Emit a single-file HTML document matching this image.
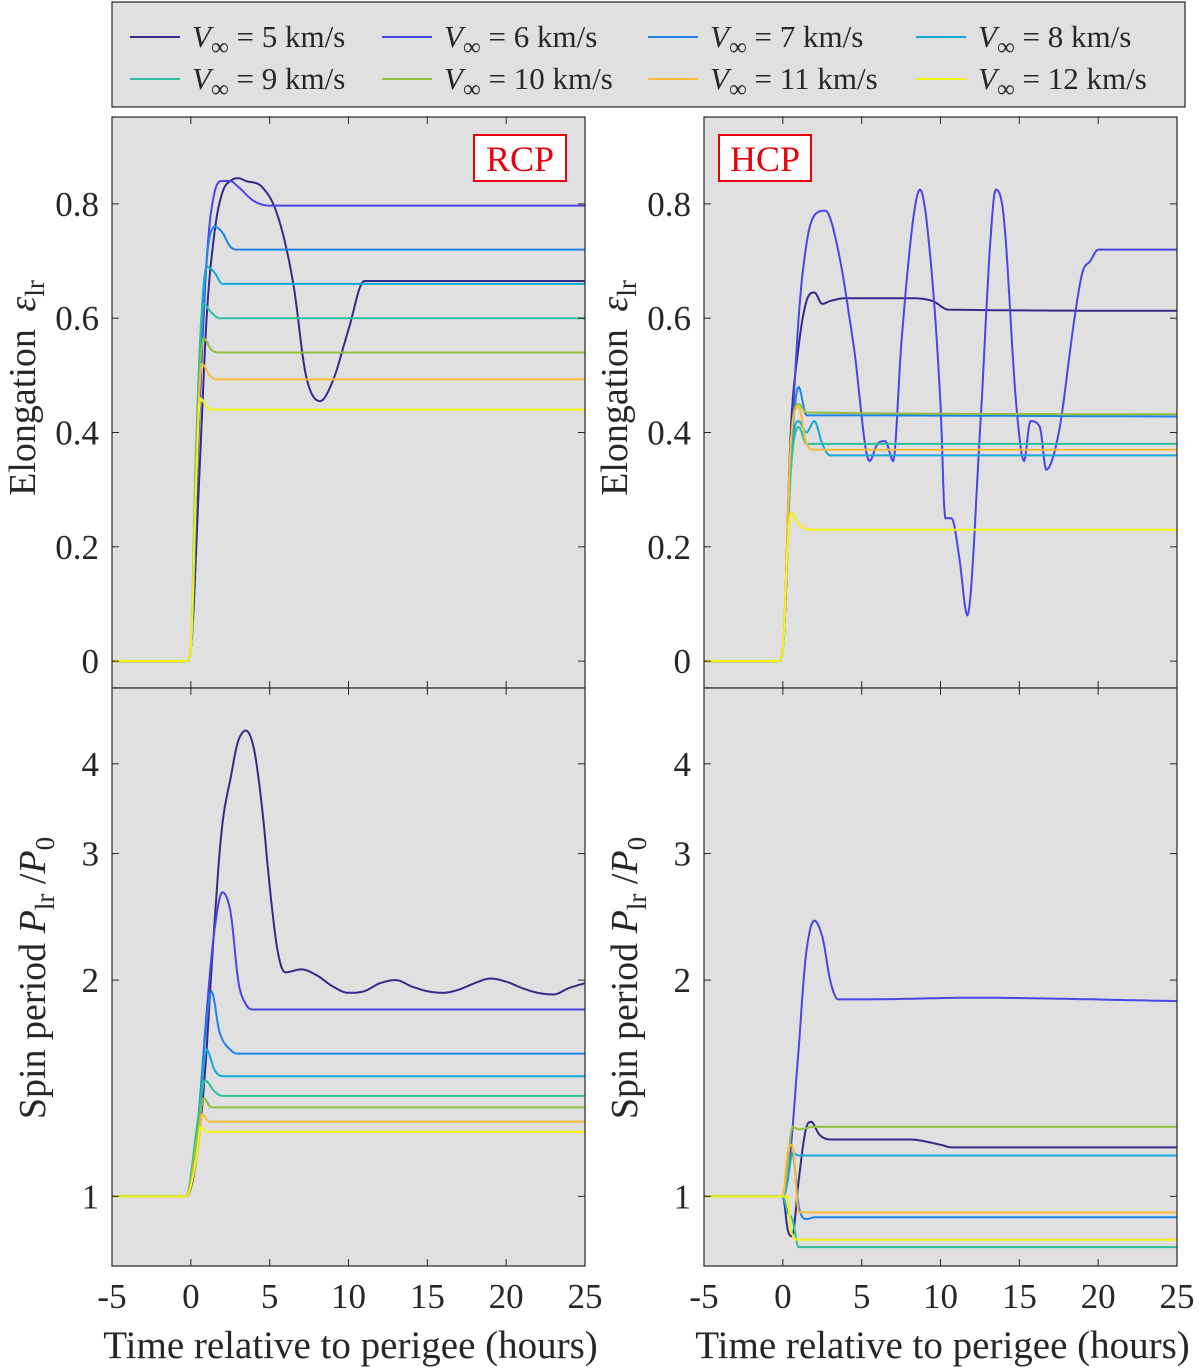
<!DOCTYPE html>
<html><head><meta charset="utf-8">
<style>
html,body{margin:0;padding:0;background:#fff;}
svg{display:block;font-family:"Liberation Serif",serif;}
</style></head>
<body>
<svg id="fig" width="1200" height="1372" viewBox="0 0 1200 1372" xmlns="http://www.w3.org/2000/svg">
<g id="legend"></g>
<g id="panels"></g>
</svg>
<script>
const speeds = [5,6,7,8,9,10,11,12];
const colors = ["#352a87","#4a45e6","#1f82e8","#13a8d8","#2ebf9a","#8fbf3c","#fbb93a","#f5f50a"];

// RCP elongation [t, value]
const rcpElongT = [
 [-5,-0.3,0,0.5,1,1.5,2,2.5,3,3.5,4.5,5.5,6.5,7.3,8.2,9,10,11,25],
 [-5,-0.3,0,0.5,1,1.5,2,2.5,3,4,5,25],
 [-5,-0.3,0,0.5,1,1.5,2,2.5,3,25],
 [-5,-0.3,0,0.5,1,1.5,2,25],
 [-5,-0.3,0,0.3,0.8,1.3,1.8,25],
 [-5,-0.3,0,0.3,0.8,1.3,1.8,25],
 [-5,-0.3,0,0.3,0.7,1.2,1.6,25],
 [-5,-0.3,0,0.3,0.6,1,1.5,25]];
const rcpElongV = [
 [0,0,0.02,0.3,0.6,0.75,0.82,0.84,0.845,0.84,0.83,0.78,0.66,0.5,0.455,0.49,0.58,0.665,0.665],
 [0,0,0.02,0.4,0.7,0.82,0.84,0.84,0.83,0.805,0.797,0.797],
 [0,0,0.02,0.45,0.7,0.76,0.75,0.725,0.72,0.72],
 [0,0,0.02,0.5,0.69,0.68,0.66,0.66],
 [0,0,0.02,0.35,0.625,0.61,0.6,0.6],
 [0,0,0.02,0.33,0.565,0.545,0.54,0.54],
 [0,0,0.02,0.3,0.52,0.5,0.493,0.493],
 [0,0,0.02,0.28,0.46,0.445,0.44,0.44]];

// HCP elongation
const hcpElongT = [
 [-5,-0.3,0,0.5,1,1.5,2,2.5,3,4,8,9.5,10.5,25],
 [-5,-0.3,0,0.5,1,1.5,2,2.7,3.5,4.5,5.5,6,6.5,7,7.5,8.3,8.7,9.2,10,10.3,10.7,11.2,11.7,12.5,13.2,13.5,14,14.8,15.3,15.7,16.3,16.7,17.5,18.5,19,19.5,20,21,25],
 [-5,-0.3,0,0.5,1,1.5,2,25],
 [-5,-0.3,0,0.5,1,1.5,2,2.5,3,25],
 [-5,-0.3,0,0.5,1,1.5,25],
 [-5,-0.3,0,0.5,1,1.5,25],
 [-5,-0.3,0,0.5,1,1.5,2,25],
 [-5,-0.3,0,0.3,0.5,1,1.8,25]];
const hcpElongV = [
 [0,0,0.02,0.4,0.55,0.63,0.645,0.625,0.63,0.635,0.635,0.63,0.615,0.613],
 [0,0,0.02,0.35,0.6,0.73,0.78,0.788,0.72,0.55,0.35,0.38,0.385,0.35,0.55,0.78,0.825,0.75,0.45,0.25,0.25,0.18,0.08,0.4,0.75,0.825,0.78,0.45,0.35,0.42,0.41,0.335,0.4,0.6,0.68,0.7,0.72,0.72,0.72],
 [0,0,0.02,0.35,0.48,0.43,0.43,0.428],
 [0,0,0.02,0.35,0.42,0.4,0.42,0.38,0.36,0.36],
 [0,0,0.02,0.33,0.41,0.38,0.38],
 [0,0,0.02,0.38,0.45,0.435,0.432],
 [0,0,0.02,0.38,0.445,0.38,0.37,0.37],
 [0,0,0.02,0.2,0.26,0.24,0.23,0.23]];

// RCP spin period
const rcpSpinT = [
 [-5,-0.3,0.5,1,1.5,2,2.5,3,3.5,4,4.5,5,5.5,6,7,8,9,10,11,12,13,14,15,16,17,18,19,20,21,22,23,24,25],
 [-5,-0.3,0.5,1,1.5,2,2.5,3,3.5,4,25],
 [-5,-0.3,0.5,1,1.3,1.8,2.5,3,25],
 [-5,-0.3,0.5,1,1.5,2,25],
 [-5,-0.3,0.5,0.9,1.5,2,25],
 [-5,-0.3,0.5,0.8,1.3,2,25],
 [-5,-0.3,0.5,0.7,1.2,2,25],
 [-5,-0.3,0.4,0.6,1,25]];
const rcpSpinV = [
 [1,1,1.2,1.6,2.4,3.3,3.8,4.3,4.45,4.2,3.5,2.7,2.2,2.05,2.07,2.03,1.96,1.92,1.93,1.98,2.0,1.96,1.93,1.92,1.94,1.98,2.01,1.99,1.95,1.92,1.91,1.95,1.98],
 [1,1,1.3,1.8,2.35,2.65,2.5,2.0,1.85,1.82,1.82],
 [1,1,1.3,1.75,1.93,1.7,1.6,1.58,1.58],
 [1,1,1.3,1.6,1.5,1.47,1.47],
 [1,1,1.3,1.45,1.4,1.38,1.38],
 [1,1,1.25,1.37,1.33,1.33,1.33],
 [1,1,1.2,1.3,1.27,1.27,1.27],
 [1,1,1.15,1.25,1.23,1.23]];

// HCP spin period
const hcpSpinT = [
 [-5,0,0.3,0.6,1,1.5,1.8,2.3,3,8,10,10.7,25],
 [-5,0,0.4,1,1.5,2,2.5,3,3.5,5,12,25],
 [-5,0,0.3,0.6,1,1.5,2,25],
 [-5,0,0.3,0.6,1,2,25],
 [-5,0,0.3,0.6,1,1.5,25],
 [-5,0,0.3,0.6,1,2,25],
 [-5,0,0.3,0.6,1,25],
 [-5,0,0.3,0.5,1,25]];
const hcpSpinV = [
 [1,1,0.9,0.88,1.05,1.25,1.27,1.22,1.2,1.2,1.18,1.17,1.17],
 [1,1,1.1,1.6,2.2,2.42,2.3,2.0,1.88,1.88,1.89,1.87],
 [1,1,1.05,1.15,0.97,0.93,0.935,0.935],
 [1,1,1.05,1.15,1.14,1.14,1.14],
 [1,1,0.95,0.93,0.85,0.85,0.85],
 [1,1,1.1,1.25,1.24,1.25,1.25],
 [1,1,1.15,1.18,0.95,0.95],
 [1,1,1.0,0.9,0.87,0.87]];

const xTicks = [-5,0,5,10,15,20,25];
const elongTicks = [0,0.2,0.4,0.6,0.8];
const spinTicks = [1,2,3,4];

const NS = "http://www.w3.org/2000/svg";
const svg = document.getElementById('fig');
const panelsG = document.getElementById('panels');
function mk(tag, attrs, parent){ const e=document.createElementNS(NS,tag); for(const k in attrs) e.setAttribute(k,attrs[k]); parent.appendChild(e); return e; }

// monotone cubic interpolation sampling
function smooth(xs, ys){
  const n=xs.length, m=new Array(n), d=[];
  for(let i=0;i<n-1;i++) d.push((ys[i+1]-ys[i])/(xs[i+1]-xs[i]));
  m[0]=d[0]; m[n-1]=d[n-2];
  for(let i=1;i<n-1;i++){ m[i] = (d[i-1]*d[i]<=0)?0:(d[i-1]+d[i])/2; }
  for(let i=0;i<n-1;i++){
    if(d[i]===0){m[i]=0;m[i+1]=0;continue;}
    const a=m[i]/d[i], b=m[i+1]/d[i], s=a*a+b*b;
    if(s>9){const t=3/Math.sqrt(s); m[i]=t*a*d[i]; m[i+1]=t*b*d[i];}
  }
  const out=[];
  for(let i=0;i<n-1;i++){
    const h=xs[i+1]-xs[i], N=Math.max(2,Math.min(24,Math.ceil(h*12)));
    for(let k=0;k<N;k++){
      const t=k/N, t2=t*t, t3=t2*t;
      const y=(2*t3-3*t2+1)*ys[i]+(t3-2*t2+t)*h*m[i]+(-2*t3+3*t2)*ys[i+1]+(t3-t2)*h*m[i+1];
      out.push([xs[i]+t*h,y]);
    }
  }
  out.push([xs[n-1],ys[n-1]]);
  return out;
}

const cols = [{x0:112,x1:585},{x0:704,x1:1177}];
const rows = [{y0:117,y1:688,lin:true,min:-0.047,max:0.952},{y0:688,y1:1266,lin:false,min:0.80,max:5.1}];

function panel(ci, ri, T, V, name, tag){
  const c=cols[ci], r=rows[ri];
  const sx = t => c.x0 + (t+5)/30*(c.x1-c.x0);
  const sy = r.lin ? v => r.y1 - (v-r.min)/(r.max-r.min)*(r.y1-r.y0)
                   : v => r.y1 - (Math.log10(v)-Math.log10(r.min))/(Math.log10(r.max)-Math.log10(r.min))*(r.y1-r.y0);
  const g = mk('g',{},panelsG);
  
  
  const bg = mk('rect',{x:c.x0,y:r.y0,width:c.x1-c.x0,height:r.y1-r.y0,fill:'#e0e0e0'},g);
  
  
  for(let s=0;s<T.length;s++){
    const pts = smooth(T[s], V[s]);
    let d='';
    pts.forEach((p,i)=>{ d += (i?'L':'M')+sx(p[0]).toFixed(1)+','+sy(p[1]).toFixed(1); });
    const p = mk('path',{d:d,fill:'none',stroke:colors[s],'stroke-width':2,'stroke-linejoin':'round'},g);
    
    
  }
  mk('rect',{x:c.x0,y:r.y0,width:c.x1-c.x0,height:r.y1-r.y0,fill:'none',stroke:'#262626','stroke-width':1.2},g);
  xTicks.forEach(t=>{
    const x=sx(t);
    mk('line',{x1:x,x2:x,y1:r.y1,y2:r.y1-7,stroke:'#262626','stroke-width':1},g);
    mk('line',{x1:x,x2:x,y1:r.y0,y2:r.y0+7,stroke:'#262626','stroke-width':1},g);
    if(ri===1){
      const tx=mk('text',{x:x,y:1308,'text-anchor':'middle','font-size':35,fill:'#262626'},g);
      tx.textContent = t;
      
      
    }
  });
  const yt = ri===0 ? elongTicks : spinTicks;
  yt.forEach(v=>{
    const y=sy(v);
    mk('line',{x1:c.x0,x2:c.x0+7,y1:y,y2:y,stroke:'#262626','stroke-width':1},g);
    mk('line',{x1:c.x1,x2:c.x1-7,y1:y,y2:y,stroke:'#262626','stroke-width':1},g);
    const tx=mk('text',{x:c.x0-13,y:y+12,'text-anchor':'end','font-size':35,fill:'#262626'},g);
    tx.textContent = v;
    
    
  });
  if(tag){
    const bx = ci===0 ? 474 : 719;
    const tb = mk('g',{},g);
    
    
    mk('rect',{x:bx,y:135,width:92,height:46,fill:'#fff',stroke:'#e8000b','stroke-width':2},tb);
    const t=mk('text',{x:bx+46,y:171,'text-anchor':'middle','font-size':36,fill:'#e8000b'},tb);
    t.textContent=tag;
  }
  if(ri===1){
    const xl=mk('text',{x:(c.x0+c.x1)/2+2,y:1358,'text-anchor':'middle','font-size':39,fill:'#262626'},g);
    xl.textContent='Time relative to perigee (hours)';
    
    
  }
  const lx = ci===0 ? 35 : 627;
  if(ri===0){
    const yl=mk('text',{x:0,y:0,'text-anchor':'middle','font-size':38,fill:'#262626',transform:`translate(${lx},${388}) rotate(-90)`},g);
    yl.innerHTML='Elongation <tspan font-style="italic" dx="8">ε</tspan><tspan font-size="27" dy="9">lr</tspan>';
    
    
  } else {
    const yl=mk('text',{x:0,y:0,'text-anchor':'middle','font-size':38,fill:'#262626',transform:`translate(${lx+10},${978}) rotate(-90)`},g);
    yl.innerHTML='Spin period <tspan font-style="italic">P</tspan><tspan font-size="27" dy="9">lr</tspan><tspan dy="-9"> /</tspan><tspan font-style="italic">P</tspan><tspan font-size="27" dy="9">0</tspan>';
    
    
  }
}
panel(0,0,rcpElongT,rcpElongV,'rcp-elongation-panel','RCP');
panel(1,0,hcpElongT,hcpElongV,'hcp-elongation-panel','HCP');
panel(0,1,rcpSpinT,rcpSpinV,'rcp-spin-panel',null);
panel(1,1,hcpSpinT,hcpSpinV,'hcp-spin-panel',null);

// legend
const lg=document.getElementById('legend');
mk('rect',{x:112,y:2,width:1073,height:105,fill:'#e0e0e0',stroke:'#262626','stroke-width':1.2},lg);
const lxs=[130,382,648,916];
speeds.forEach((s,i)=>{
  const x=lxs[i%4], y= i<4 ? 37 : 79;
  const e=mk('g',{},lg);
  
  
  mk('line',{x1:x,x2:x+50,y1:y,y2:y,stroke:colors[i],'stroke-width':2},e);
  const t=mk('text',{x:x+62,y:y+10,'font-size':31,fill:'#262626'},e);
  t.innerHTML='<tspan font-style="italic">V</tspan><tspan font-size="25" dy="8">∞</tspan><tspan dy="-8"> = '+s+' km/s</tspan>';
});
</script>
</body></html>
